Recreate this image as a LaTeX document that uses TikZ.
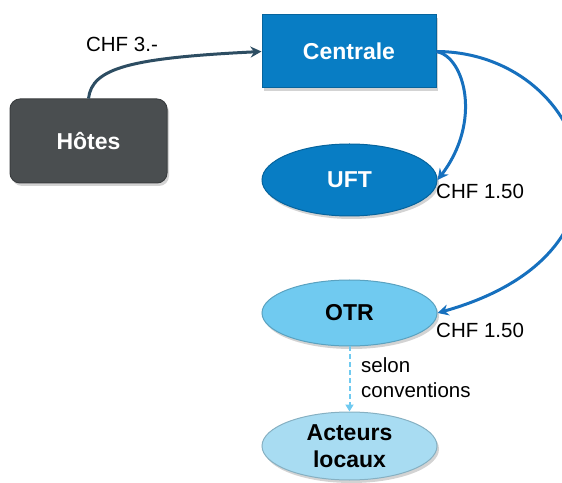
\documentclass[tikz,border=0pt]{standalone}
\usepackage{fontspec}
\setmainfont{Liberation Sans}
\usetikzlibrary{arrows.meta,shapes.geometric,shadows}

\definecolor{hotesgrey}{RGB}{74,78,80}
\definecolor{centralblue}{RGB}{8,125,196}
\definecolor{otrblue}{RGB}{112,202,240}
\definecolor{acteurblue}{RGB}{168,220,242}
\definecolor{fluxslate}{RGB}{45,77,98}
\definecolor{fluxblue}{RGB}{22,112,190}

\tikzset{
  box/.style={draw=#1!80!black, fill=#1, line width=1pt, inner sep=0pt,
    font=\fontsize{23}{27}\selectfont\bfseries, align=center,
    drop shadow={opacity=.35, shadow xshift=2pt, shadow yshift=-3pt}},
  oval/.style={box=#1, ellipse, minimum width=175pt},
  flux/.style={line width=3pt, -{Stealth[length=11pt,width=11pt]}},
  chf/.style={font=\fontsize{20.5}{25}\selectfont}
}

\begin{document}
\begin{tikzpicture}[x=1pt, y=1pt]
	\useasboundingbox (0,0) rectangle (562,482);

	% nodes
	\node[box=hotesgrey, rounded corners=10pt, minimum width=157pt, minimum height=84pt, text=white] (hotes) at (88.5,341) {H\^otes};
	\node[box=centralblue, minimum width=174pt, minimum height=73pt, text=white] (centrale) at (349,430.5) {Centrale};
	\node[oval=centralblue, minimum height=72pt, text=white] (uft) at (349.5,302) {UFT};
	\node[oval=otrblue, minimum height=66pt] (otr) at (349.5,169) {OTR};
	\node[oval=acteurblue, minimum height=68pt] (acteurs) at (349.5,36) {Acteurs\\locaux};

	% flows
	\draw[flux, fluxslate] (hotes.north) .. controls (92,414) and (130,424) .. (centrale.west);
	\draw[flux, fluxblue] (centrale.east) .. controls (465,425) and (482,360) .. (uft.east);
	\draw[flux, fluxblue] (centrale.east) .. controls (585,430) and (662,232) .. (otr.east);
	\draw[otrblue, line width=2pt, dash pattern=on 5pt off 3pt, -{Triangle[length=7pt,width=8pt]}] (otr.south) -- (acteurs.north);

	% labels
	\node[chf] (chfhotes) at (122,438) {CHF 3.-};
	\node[chf, anchor=west, inner sep=0pt] (chfuft) at (436,291) {CHF 1.50};
	\node[chf, anchor=west, inner sep=0pt] (chfotr) at (436,152) {CHF 1.50};
	\node[chf, anchor=north west, align=left, inner sep=0pt] (selon) at (361,125) {selon\\conventions};
\end{tikzpicture}
\end{document}
